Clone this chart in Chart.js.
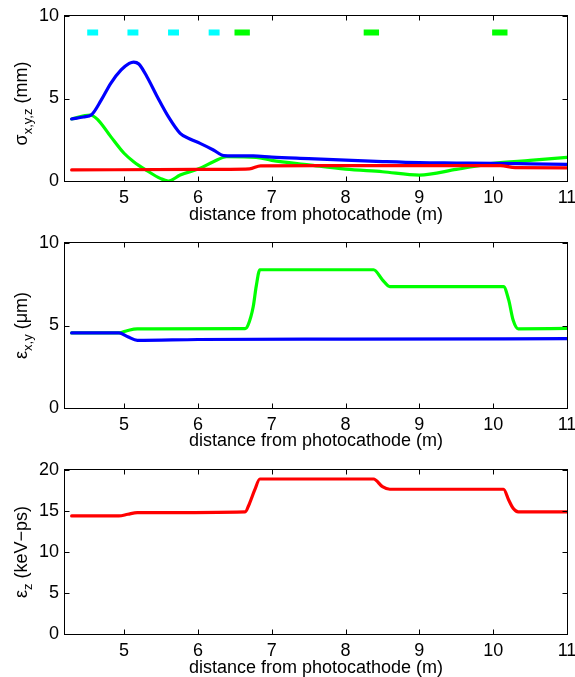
<!DOCTYPE html>
<html>
<head>
<meta charset="utf-8">
<script src="https://cdn.jsdelivr.net/npm/chart.js@4/dist/chart.umd.min.js"></script>
<style>
  html,body{margin:0;padding:0;background:#fff;overflow:hidden}
  #wrap{position:relative;width:575px;height:677px;overflow:hidden}
  #wrap canvas{position:absolute;left:0}
</style>
</head>
<body>
<div id="wrap">
  <canvas id="cv-sigma" width="575" height="226" style="top:0"></canvas>
  <canvas id="cv-exy" width="575" height="226" style="top:226px"></canvas>
  <canvas id="cv-ez" width="575" height="227" style="top:452px"></canvas>
</div>
<script>
/* ---- data ---- */
const X_TICKS = [5, 6, 7, 8, 9, 10, 11];
const X_TITLE = 'distance from photocathode (m)';

// beam size (mm)
const sigBlueX = [4.29, 4.45, 4.56, 4.69, 4.82, 4.96, 5.07, 5.13, 5.2, 5.31, 5.45, 5.6, 5.76, 5.9, 6.03, 6.21, 6.35, 6.48, 6.75, 7.0, 7.5, 8.0, 8.5, 9.0, 9.5, 10.0, 10.5, 11.0];
const sigBlueY = [3.76, 3.88, 4.02, 4.9, 5.92, 6.73, 7.13, 7.21, 7.09, 6.32, 5.11, 3.9, 2.89, 2.53, 2.28, 1.88, 1.54, 1.52, 1.52, 1.45, 1.36, 1.27, 1.18, 1.11, 1.09, 1.07, 1.04, 1.01];
const sigGreenX = [4.29, 4.54, 4.64, 4.82, 5.0, 5.13, 5.31, 5.49, 5.6, 5.76, 6.03, 6.21, 6.39, 6.79, 7.0, 7.5, 8.0, 8.5, 9.0, 9.5, 10.0, 10.5, 11.0];
const sigGreenY = [3.76, 4.0, 3.74, 2.69, 1.68, 1.17, 0.63, 0.16, 0.0, 0.36, 0.77, 1.17, 1.47, 1.43, 1.25, 0.98, 0.72, 0.56, 0.36, 0.7, 1.07, 1.25, 1.43];
const sigRedX = [4.29, 6.0, 6.7, 6.85, 8.0, 10.1, 10.3, 11.0];
const sigRedY = [0.67, 0.7, 0.74, 0.92, 0.93, 0.93, 0.81, 0.8];

// magnet markers along the line
const MAGNET_LEVEL = 9;
const quadPos = [4.575, 5.12, 5.67, 6.22];
const solPos = [6.6, 8.35, 10.09];

// transverse emittance (um)
const exyBlueX = [4.29, 4.93, 5.05, 5.18, 6.0, 8.0, 11.0];
const exyBlueY = [4.55, 4.55, 4.32, 4.1, 4.15, 4.18, 4.2];
const exyGreenX = [4.29, 4.93, 5.05, 5.18, 6.64, 6.68, 6.75, 6.79, 6.84, 8.38, 8.5, 8.6, 10.14, 10.21, 10.27, 10.34, 11.0];
const exyGreenY = [4.55, 4.55, 4.7, 4.79, 4.81, 5.03, 6.15, 7.37, 8.38, 8.38, 7.77, 7.36, 7.36, 6.55, 5.33, 4.8, 4.82];

// longitudinal emittance (keV-ps)
const ezX = [4.29, 4.93, 5.05, 5.18, 6.64, 6.7, 6.77, 6.84, 8.38, 8.5, 8.6, 10.14, 10.21, 10.27, 10.34, 11.0];
const ezY = [14.4, 14.4, 14.6, 14.8, 14.9, 15.94, 17.57, 18.9, 18.9, 17.97, 17.65, 17.65, 16.35, 15.33, 14.89, 14.89];

/* ---- styling ---- */
const FONT = '"Liberation Sans", Arial, Helvetica, sans-serif';
const BLUE = '#0000ff', GREEN = '#00ff00', RED = '#ff0000', CYAN = '#00ffff';
const QUAD_HALF = 0.074, SOL_HALF = 0.104;

Chart.defaults.color = '#000';
Chart.defaults.font.family = FONT;
Chart.defaults.font.size = 18;

const pts = (xs, ys) => xs.map((x, i) => ({x: x, y: ys[i]}));
function bars(centres, half){
  const d = [];
  centres.forEach(c => { d.push({x: c - half, y: MAGNET_LEVEL}, {x: c + half, y: MAGNET_LEVEL}, {x: c + half, y: null}); });
  return d;
}
function curve(data, color){
  return {data: data, borderColor: color, borderWidth: 3.2, pointRadius: 0, cubicInterpolationMode: 'monotone', borderJoinStyle: 'round', borderCapStyle: 'round'};
}
function marker(data, color){
  return {data: data, borderColor: color, borderWidth: 6, pointRadius: 0, borderCapStyle: 'butt', spanGaps: false};
}

// box, inward ticks on all four sides, y label with subscript
const frame = {
  id: 'frame',
  afterDraw(chart, args, o){
    const {ctx, chartArea: a, scales: {x, y}} = chart;
    const L = Math.round(a.left) - 0.5, R = Math.round(a.right) + 0.5;
    const T = Math.round(a.top) - 0.5, B = Math.round(a.bottom) + 0.5;
    ctx.save();
    ctx.strokeStyle = '#000'; ctx.lineWidth = 1;
    ctx.strokeRect(L, T, R - L, B - T);
    ctx.beginPath();
    x.ticks.forEach(t => {
      const p = Math.round(x.getPixelForValue(t.value)) + 0.5;
      ctx.moveTo(p, B); ctx.lineTo(p, B - 5);
      ctx.moveTo(p, T); ctx.lineTo(p, T + 5);
    });
    y.ticks.forEach(t => {
      const p = Math.round(y.getPixelForValue(t.value)) + 0.5;
      ctx.moveTo(L, p); ctx.lineTo(L + 5, p);
      ctx.moveTo(R, p); ctx.lineTo(R - 5, p);
    });
    ctx.stroke();

    const lb = o.label;
    const big = '18px ' + FONT, small = '13px ' + FONT;
    ctx.translate(o.labelX, (a.top + a.bottom) / 2 + o.shift);
    ctx.rotate(-Math.PI / 2);
    ctx.fillStyle = '#000'; ctx.textAlign = 'left'; ctx.textBaseline = 'alphabetic';
    ctx.font = big; const w1 = ctx.measureText(lb.main).width, w3 = ctx.measureText(lb.rest).width;
    ctx.font = small; const w2 = ctx.measureText(lb.sub).width;
    const x0 = -(w1 + w2 + w3) / 2;
    ctx.font = big; ctx.fillText(lb.main, x0, 0);
    ctx.font = small; ctx.fillText(lb.sub, x0 + w1, 5);
    ctx.font = big; ctx.fillText(lb.rest, x0 + w1 + w2, 0);
    ctx.restore();
  }
};

function makeChart(id, c){
  return new Chart(document.getElementById(id), {
    type: 'line',
    data: {datasets: c.datasets},
    options: {
      responsive: false, animation: false, devicePixelRatio: 1,
      layout: {padding: {top: c.top, right: 8, left: 0, bottom: 0}},
      plugins: {legend: {display: false}, tooltip: {enabled: false},
        frame: {label: c.label, labelX: 27, shift: c.shift || 0}},
      scales: {
        x: {
          type: 'linear', min: 4.2, max: 11,
          grid: {display: false, drawTicks: false}, border: {display: false},
          afterBuildTicks: s => { s.ticks = X_TICKS.map(v => ({value: v})); },
          afterFit: s => { s.height = c.xh; s.paddingLeft = 0; s.paddingRight = 0; },
          ticks: {padding: 6, maxRotation: 0, autoSkip: false},
          title: {display: true, text: X_TITLE, padding: {top: 0, bottom: 0}}
        },
        y: {
          type: 'linear', min: c.yTicks[0], max: c.yTicks[c.yTicks.length - 1],
          grid: {display: false, drawTicks: false}, border: {display: false},
          afterBuildTicks: s => { s.ticks = c.yTicks.map(v => ({value: v})); },
          afterFit: s => { s.width = 65; s.paddingTop = 0; s.paddingBottom = 0; },
          ticks: {padding: 6, autoSkip: false}
        }
      }
    },
    plugins: [frame]
  });
}

makeChart('cv-sigma', {
  top: 16, xh: 45, shift: 5,
  yTicks: [0, 5, 10],
  label: {main: 'σ', sub: 'x,y,z', rest: ' (mm)'},
  datasets: [
    curve(pts(sigRedX, sigRedY), RED),
    curve(pts(sigBlueX, sigBlueY), BLUE),
    curve(pts(sigGreenX, sigGreenY), GREEN),
    marker(bars(quadPos, QUAD_HALF), CYAN),
    marker(bars(solPos, SOL_HALF), GREEN)
  ]
});

makeChart('cv-exy', {
  top: 17, xh: 44,
  yTicks: [0, 5, 10],
  label: {main: 'ε', sub: 'x,y', rest: ' (μm)'},
  datasets: [
    curve(pts(exyBlueX, exyBlueY), BLUE),
    curve(pts(exyGreenX, exyGreenY), GREEN)
  ]
});

makeChart('cv-ez', {
  top: 18, xh: 45,
  yTicks: [0, 5, 10, 15, 20],
  label: {main: 'ε', sub: 'z', rest: ' (keV−ps)'},
  datasets: [
    curve(pts(ezX, ezY), RED)
  ]
});
</script>
</body>
</html>
